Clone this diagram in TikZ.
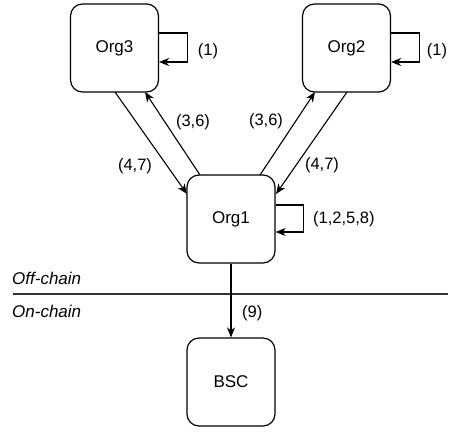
\documentclass[tikz,border=0pt]{standalone}
\usepackage{fontspec}
\setmainfont{Liberation Sans}
\usetikzlibrary{arrows.meta}
\begin{document}
\begin{tikzpicture}[x=1pt,y=-1pt,
  box/.style={draw,line width=1.2pt,rounded corners=12pt,minimum width=88pt,minimum height=88pt,inner sep=0pt,font=\fontsize{17}{20}\selectfont},
  conn/.style={line width=1.1pt,-{Stealth[length=10pt,width=8pt,inset=3pt]}},
  lbl/.style={font=\fontsize{16.5}{19}\selectfont,inner sep=0pt},
  side/.style={font=\fontsize{17}{20}\selectfont\itshape,inner sep=0pt,anchor=west}]
\useasboundingbox (0,0) rectangle (454,432);
\node[box] (org3) at (114.5,48) {Org3};
\node[box] (org2) at (346.5,48) {Org2};
\node[box] (org1) at (231,219) {Org1};
\node[box] (bsc) at (231,382) {BSC};
% self loops
\draw[conn] (org3.east |- 0,33) -- ++(28,0) -- ++(0,29) -- (org3.east |- 0,62);
\draw[conn] (org2.east |- 0,33) -- ++(28,0) -- ++(0,29) -- (org2.east |- 0,62);
\draw[conn] (org1.east |- 0,205) -- ++(28,0) -- ++(0,27) -- (org1.east |- 0,232);
\node[lbl] (l31) at (208,51) {(1)};
\node[lbl] (l21) at (437,51) {(1)};
\node[lbl,anchor=west] (l11) at (313,219) {(1,2,5,8)};
% inter-org
\coordinate (a1) at (115,92);
\coordinate (a2) at (187,194);
\draw[conn] (a1) -- (a2);
\coordinate (b1) at (200,175);
\coordinate (b2) at (145,92);
\draw[conn] (b1) -- (b2);
\coordinate (c1) at (347,92);
\coordinate (c2) at (276,194);
\draw[conn] (c1) -- (c2);
\coordinate (d1) at (260,175);
\coordinate (d2) at (315,92);
\draw[conn] (d1) -- (d2);
\node[lbl] (l36a) at (193,122) {(3,6)};
\node[lbl] (l47a) at (135,166) {(4,7)};
\node[lbl] (l36b) at (266,121) {(3,6)};
\node[lbl] (l47b) at (322,165) {(4,7)};
% chain
\coordinate (s1) at (13,294);
\coordinate (s2) at (448,294);
\draw[line width=1.1pt,black!80] (s1) -- (s2);
\node[side] (off) at (12,278) {Off-chain};
\node[side] (on) at (12,311) {On-chain};
\draw[conn] (org1) -- (bsc);
\node[lbl,anchor=west] (l9) at (242,313) {(9)};
\end{tikzpicture}
\end{document}
